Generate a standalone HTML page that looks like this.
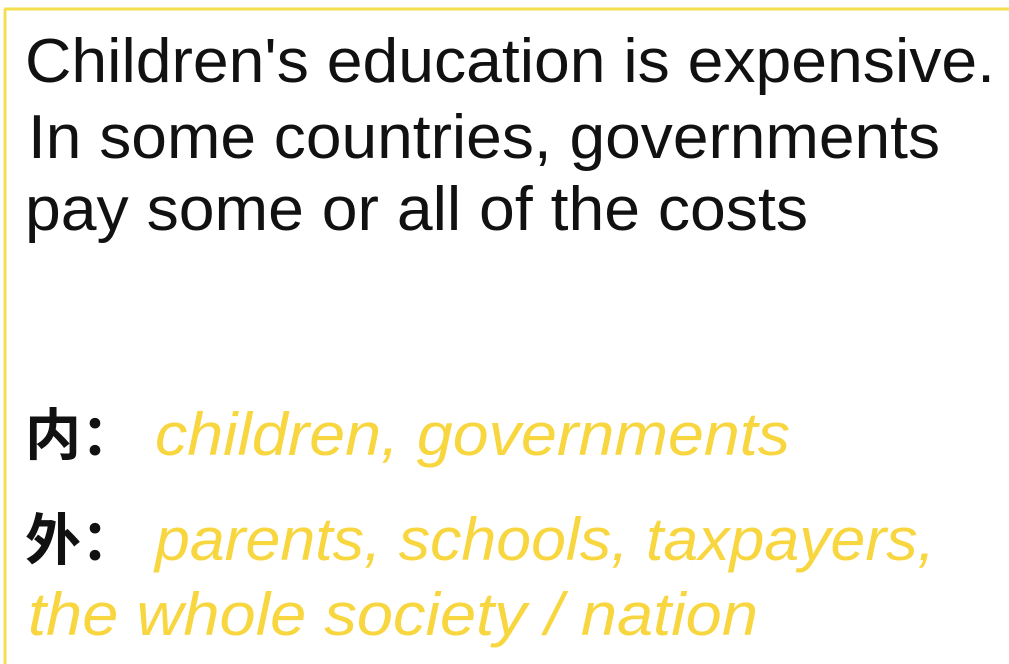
<!DOCTYPE html>
<html><head><meta charset="utf-8"><style>
html,body{margin:0;padding:0;background:#fff;width:1009px;height:664px;overflow:hidden}
svg{display:block}
</style></head><body>
<svg width="1009" height="664">
<rect x="0" y="0" width="1009" height="664" fill="#fff"/>
<line x1="4" y1="9" x2="1009" y2="9" stroke="#f6df4e" stroke-width="3"/>
<line x1="5" y1="9" x2="5" y2="664" stroke="#f6df4e" stroke-width="3"/>
<g font-family="'Liberation Sans','Noto Sans CJK SC',sans-serif" font-size="62" fill="#111">
<text x="25" y="82" textLength="970" lengthAdjust="spacingAndGlyphs">Children's education is expensive.</text>
<text x="28" y="158" textLength="912" lengthAdjust="spacingAndGlyphs">In some countries, governments</text>
<text x="25" y="230" textLength="783" lengthAdjust="spacingAndGlyphs">pay some or all of the costs</text>
<text x="25" y="455" font-weight="bold" font-size="56">内：</text>
<text x="25" y="560" font-weight="bold" font-size="56">外：</text>
</g>
<g font-family="'Liberation Sans',sans-serif" font-size="60" font-style="italic" fill="#f8d640">
<text x="155" y="455" textLength="635" lengthAdjust="spacingAndGlyphs">children, governments</text>
<text x="155" y="560" textLength="780" lengthAdjust="spacingAndGlyphs">parents, schools, taxpayers,</text>
<text x="28" y="635" textLength="730" lengthAdjust="spacingAndGlyphs">the whole society / nation</text>
</g>
</svg>
</body></html>
